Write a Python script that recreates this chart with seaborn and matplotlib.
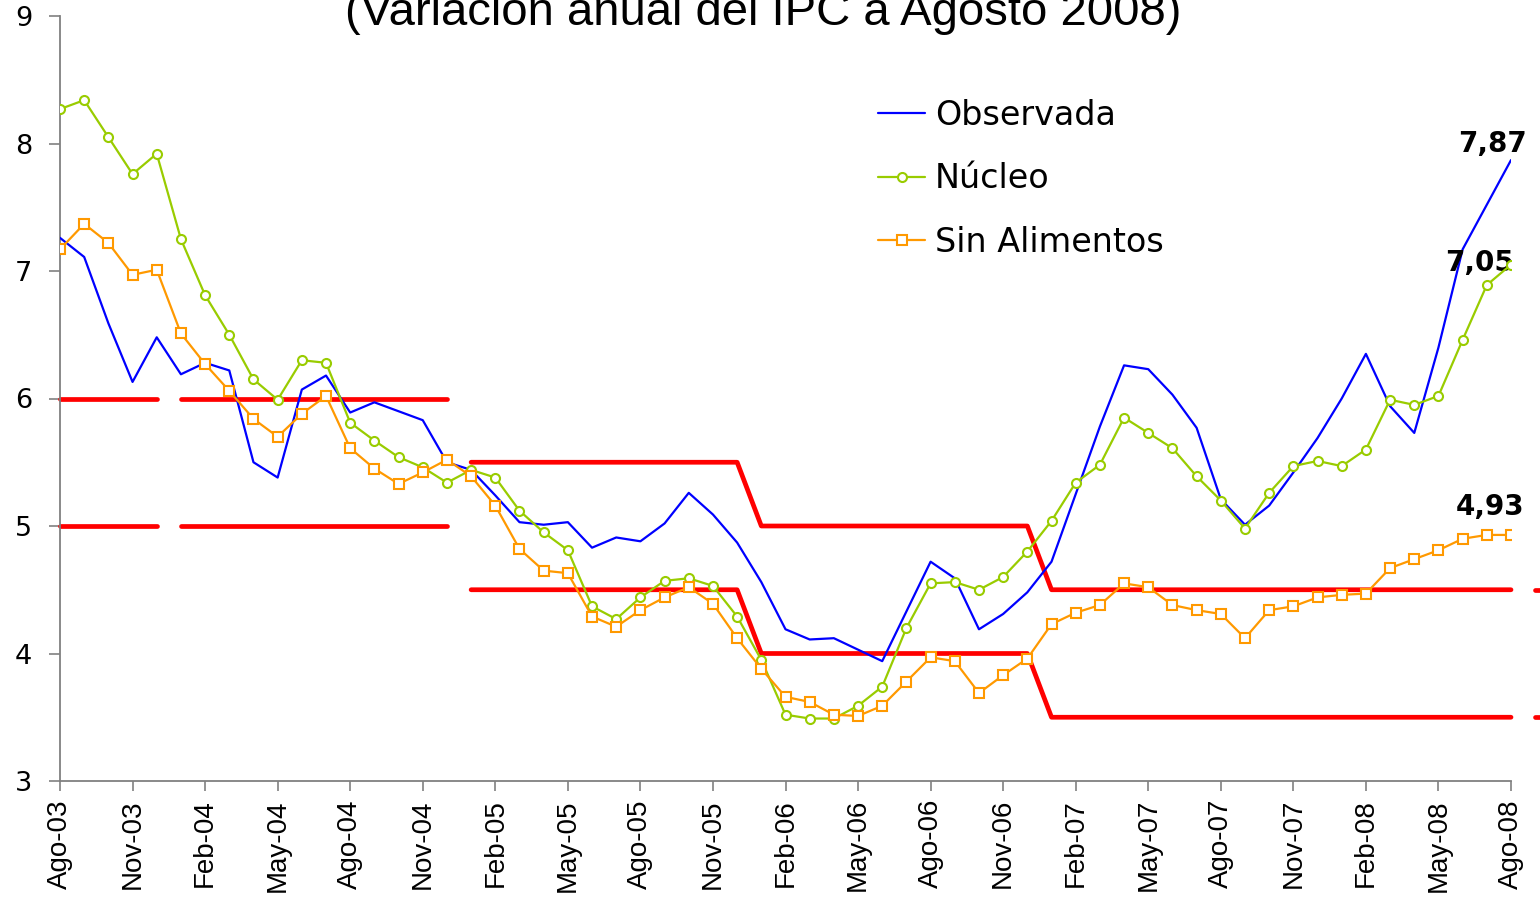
import numpy as np
import pandas as pd
import matplotlib
matplotlib.use("Agg")
import matplotlib.pyplot as plt
import seaborn as sns
from matplotlib import font_manager

# ---------------------------------------------- DATA ---------------------------------------------- #
titulo = "(Variación anual del IPC a Agosto 2008)"

etiquetas_x = ["Ago-03", "Nov-03", "Feb-04", "May-04", "Ago-04", "Nov-04", "Feb-05",
               "May-05", "Ago-05", "Nov-05", "Feb-06", "May-06", "Ago-06", "Nov-06",
               "Feb-07", "May-07", "Ago-07", "Nov-07", "Feb-08", "May-08", "Ago-08"]

# monthly, Ago-03 .. Ago-08
observada = [7.26, 7.11, 6.59, 6.13, 6.48, 6.19, 6.28, 6.22, 5.50, 5.38,
             6.07, 6.18, 5.89, 5.97, 5.90, 5.83, 5.50, 5.44, 5.24, 5.03,
             5.01, 5.03, 4.83, 4.91, 4.88, 5.02, 5.26, 5.09, 4.87, 4.56,
             4.19, 4.11, 4.12, 4.03, 3.94, 4.33, 4.72, 4.59, 4.19, 4.31,
             4.48, 4.72, 5.25, 5.78, 6.26, 6.23, 6.03, 5.77, 5.21, 5.01,
             5.16, 5.42, 5.69, 6.00, 6.35, 5.94, 5.73, 6.40, 7.17, 7.52,
             7.87]

nucleo = [8.27, 8.34, 8.05, 7.76, 7.92, 7.25, 6.81, 6.50, 6.15, 5.99,
          6.30, 6.28, 5.81, 5.67, 5.54, 5.46, 5.34, 5.44, 5.38, 5.12,
          4.95, 4.81, 4.37, 4.27, 4.44, 4.57, 4.59, 4.53, 4.29, 3.95,
          3.52, 3.49, 3.49, 3.59, 3.74, 4.20, 4.55, 4.56, 4.50, 4.60,
          4.80, 5.04, 5.34, 5.48, 5.85, 5.73, 5.61, 5.39, 5.20, 4.98,
          5.26, 5.47, 5.51, 5.47, 5.60, 5.99, 5.95, 6.02, 6.46, 6.89,
          7.05]

sin_alimentos = [7.17, 7.37, 7.22, 6.97, 7.01, 6.51, 6.27, 6.06, 5.84, 5.70,
                 5.88, 6.02, 5.61, 5.45, 5.33, 5.42, 5.52, 5.39, 5.16, 4.82,
                 4.65, 4.63, 4.29, 4.21, 4.34, 4.44, 4.52, 4.39, 4.12, 3.88,
                 3.66, 3.62, 3.52, 3.51, 3.59, 3.78, 3.97, 3.94, 3.69, 3.83,
                 3.96, 4.23, 4.32, 4.38, 4.55, 4.52, 4.38, 4.34, 4.31, 4.12,
                 4.34, 4.37, 4.44, 4.46, 4.47, 4.67, 4.74, 4.81, 4.90, 4.93,
                 4.93]

# target band (upper / lower), one value per month, two extra months past Ago-08
banda_sup = [6.0, 6.0, 6.0, 6.0, 6.0, 6.0, 6.0, 6.0, 6.0, 6.0,
             6.0, 6.0, 6.0, 6.0, 6.0, 6.0, 6.0, 5.5, 5.5, 5.5,
             5.5, 5.5, 5.5, 5.5, 5.5, 5.5, 5.5, 5.5, 5.5, 5.0,
             5.0, 5.0, 5.0, 5.0, 5.0, 5.0, 5.0, 5.0, 5.0, 5.0,
             5.0, 4.5, 4.5, 4.5, 4.5, 4.5, 4.5, 4.5, 4.5, 4.5,
             4.5, 4.5, 4.5, 4.5, 4.5, 4.5, 4.5, 4.5, 4.5, 4.5,
             4.5, 4.5, 4.5]
banda_inf = [5.0, 5.0, 5.0, 5.0, 5.0, 5.0, 5.0, 5.0, 5.0, 5.0,
             5.0, 5.0, 5.0, 5.0, 5.0, 5.0, 5.0, 4.5, 4.5, 4.5,
             4.5, 4.5, 4.5, 4.5, 4.5, 4.5, 4.5, 4.5, 4.5, 4.0,
             4.0, 4.0, 4.0, 4.0, 4.0, 4.0, 4.0, 4.0, 4.0, 4.0,
             4.0, 3.5, 3.5, 3.5, 3.5, 3.5, 3.5, 3.5, 3.5, 3.5,
             3.5, 3.5, 3.5, 3.5, 3.5, 3.5, 3.5, 3.5, 3.5, 3.5,
             3.5, 3.5, 3.5]
cortes_banda = [4, 16, 60]   # band line is interrupted after these months

# ---------------------------------------------- PLOT ---------------------------------------------- #
sns.set_style("white")
nombres = {f.name for f in font_manager.fontManager.ttflist}
if 'Liberation Sans Narrow' in nombres:
    fuente_estrecha, tam_x, tam_tit = 'Liberation Sans Narrow', 24, 42
else:
    fuente_estrecha, tam_x, tam_tit = 'Liberation Sans', 20, 34
plt.rcParams['font.family'] = ['DejaVu Sans']
plt.rcParams['text.color'] = 'black'

meses = np.arange(len(observada))
df = pd.DataFrame({'mes': meses, 'Observada': observada,
                   'Núcleo': nucleo, 'Sin Alimentos': sin_alimentos})

fig = plt.figure(figsize=(15.4, 9.01), dpi=100)
ax = fig.add_axes([60/1540, 1-781/901, 1451/1540, 765/901])

# target band
meses_banda = np.arange(len(banda_sup))
inicio = 0
for fin in cortes_banda + [len(banda_sup) - 1]:
    tramo = slice(inicio, fin + 1)
    for banda in (banda_sup, banda_inf):
        sns.lineplot(x=meses_banda[tramo], y=np.array(banda)[tramo], ax=ax,
                     color='#FF0000', lw=3.4, clip_on=False,
                     solid_capstyle='round', zorder=2)
    inicio = fin + 1

sns.lineplot(data=df, x='mes', y='Observada', ax=ax, color='#0000FF', lw=1.6,
             label='Observada', zorder=3)
sns.lineplot(data=df, x='mes', y='Núcleo', ax=ax, color='#99CC00', lw=1.6,
             marker='o', markersize=6.5, markerfacecolor='white',
             markeredgecolor='#99CC00', markeredgewidth=1.5,
             label='Núcleo', zorder=4)
sns.lineplot(data=df, x='mes', y='Sin Alimentos', ax=ax, color='#FF9900', lw=1.6,
             marker='s', markersize=6.5, markerfacecolor='white',
             markeredgecolor='#FF9900', markeredgewidth=1.5,
             label='Sin Alimentos', zorder=4)

# last values
for serie, dx, dy in [(observada, -19, 16), (nucleo, -31, 2), (sin_alimentos, -21, 28)]:
    ax.annotate(f"{serie[-1]:.2f}".replace('.', ','), xy=(meses[-1], serie[-1]),
                xytext=(dx, dy), textcoords='offset pixels', ha='center', va='center',
                fontsize=20, fontweight='bold', color='black', annotation_clip=False)

ax.set_xlim(0, 60)
ax.set_ylim(3, 9)
ax.set_xticks(meses[::3])
ax.set_xticklabels(etiquetas_x, rotation=90, family=fuente_estrecha, fontsize=tam_x)
ax.set_yticks(range(3, 10))
ax.tick_params(axis='y', labelsize=19.5, length=8, width=1.2, color='#808080', pad=12,
               direction='out', left=True, labelcolor='black')
ax.tick_params(axis='x', length=7, width=1.2, color='#808080', pad=6,
               direction='out', bottom=True, labelcolor='black')
ax.set_xlabel('')
ax.set_ylabel('')
for lado in ['top', 'right']:
    ax.spines[lado].set_visible(False)
for lado in ['left', 'bottom']:
    ax.spines[lado].set_color('#808080')
    ax.spines[lado].set_linewidth(1.3)

leg = ax.legend(loc='upper left', bbox_to_anchor=(0.564, 0.892), frameon=False,
                fontsize=24, handlelength=1.4, handletextpad=0.3, labelspacing=0.92,
                borderpad=0, borderaxespad=0)
for t in leg.get_texts():
    t.set_color('black')

fig.text(763/1540, 1-25/901, titulo, ha='center', va='baseline',
         family=fuente_estrecha, fontsize=tam_tit, color='black')

fig.savefig('out.png', dpi=100)
